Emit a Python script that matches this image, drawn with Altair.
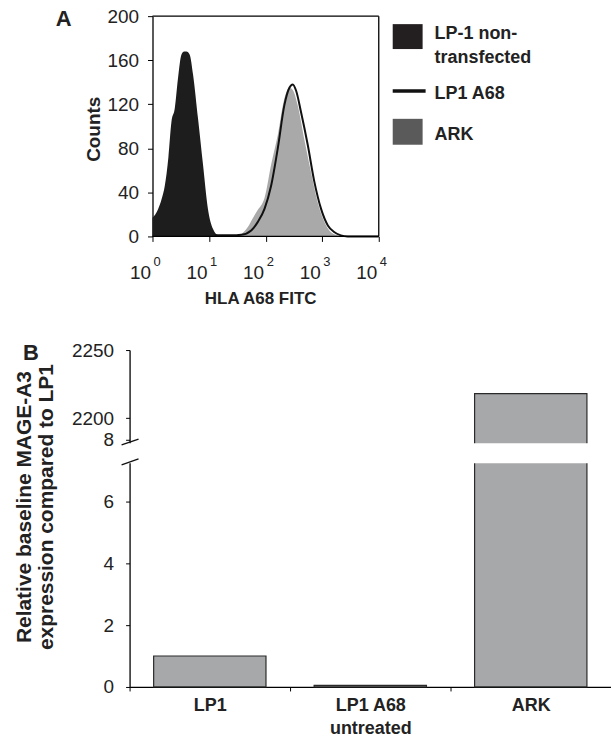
import altair as alt
import pandas as pd

FONT = "Liberation Sans"

# ---------------- Panel A data (flow cytometry histograms) ----------------
NONTRANS_X = [1.0, 1.12, 1.26, 1.45, 1.65, 1.91, 2.16, 2.47, 2.83, 3.24, 3.63, 3.98,
              4.55, 5.21, 6.38, 7.82, 9.55, 11.7, 14.5, 17.8]
NONTRANS_Y = [17, 20, 25, 34, 46, 72, 104, 116, 144, 165, 168, 168,
              165, 147, 107, 65, 25, 7, 1, 0]

ARK_X = [28, 34.7, 41, 48.5, 60, 72.4, 83, 95.5, 125, 164, 214, 263, 302, 369,
         479, 631, 832, 1096, 1413, 1862, 2240]
ARK_Y = [0, 1, 4, 8.5, 17, 24, 28, 35, 65, 92, 125, 135, 133, 119,
         89, 59, 31, 13, 4, 1, 0]

A68_X = [12.6, 17.8, 25, 37, 55.6, 72.4, 95.5, 125, 164, 214, 263, 302, 347, 422,
         556, 724, 955, 1259, 1622, 2138, 2818, 10000]
A68_Y = [1, 1, 1, 1.5, 5.5, 13, 25, 46, 80, 119, 135, 138, 132, 113,
         83, 50, 25, 10, 4, 1, 0, 0]

A_TICKS = [1, 10, 100, 1000, 10000]
A_SUPS = ["0", "1", "2", "3", "4"]
COUNT_TICKS = list(range(0, 201, 10))

# ---------------- Panel B data ----------------
CELLS = ["LP1", "LP1 A68 untreated", "ARK"]
EXPRESSION = [1.0, 0.05, 2218]
LOWER_TICKS = [0, 2, 4, 6, 8]
UPPER_TICKS = [2200, 2250]

# broken-axis mapping (lower segment 0-8, upper segment from 2200)
UP_BASE_V = 2200
UP_BASE_T = 8.687
UP_SCALE = 0.04406


def to_t(v):
    return v if v <= 8 else UP_BASE_T + (v - UP_BASE_V) * UP_SCALE


T_TOP = to_t(2250)
Y_VALUES = LOWER_TICKS + [to_t(v) for v in UPPER_TICKS]
GAP = [7.235, 7.88]
SLASHES = pd.DataFrame({"y0": [7.18, 7.826], "y1": [7.374, 8.01]})

# ---------------- Panel A ----------------
W_A, H_A, XOFF = 250, 221, 23
xs = alt.Scale(type="log", domain=[1, 10000], range=[XOFF, W_A])
ys = alt.Scale(domain=[0, 200], nice=False)

x_axis = alt.Axis(values=A_TICKS, labelExpr="'10'", labelAlign="right",
                  labelBaseline="alphabetic", labelPadding=37, labelOffset=-2,
                  labelFontSize=19, labelFlush=False, labelOverlap=False,
                  tickSize=5, domain=False, grid=False,
                  title="HLA A68 FITC", titleFontSize=17, titleFontWeight="bold",
                  titleX=131, titleY=54, titleBaseline="top", titleAlign="center")
y_axis = alt.Axis(values=COUNT_TICKS,
                  labelExpr="datum.value % 40 == 0 ? datum.label : ''",
                  offset=-XOFF, tickSize=5, labelPadding=9, labelFontSize=19,
                  labelOverlap=False, grid=False, domainWidth=1.3,
                  title="Counts", titleFontSize=19, titleFontWeight="bold",
                  titleAngle=-90, titleX=-53, titleY=113, titleAlign="center",
                  titleBaseline="alphabetic")

df_non = pd.DataFrame({"x": NONTRANS_X, "count": NONTRANS_Y})
df_ark = pd.DataFrame({"x": ARK_X, "count": ARK_Y})
df_a68 = pd.DataFrame({"x": A68_X, "count": A68_Y})

ark_area = alt.Chart(df_ark).mark_area(color="#a9a9a9", interpolate="monotone").encode(
    x=alt.X("x:Q", scale=xs, axis=x_axis),
    y=alt.Y("count:Q", scale=ys, axis=y_axis),
)
non_area = alt.Chart(df_non).mark_area(color="#1d1d1d", interpolate="monotone").encode(
    x="x:Q", y="count:Q")
a68_line = alt.Chart(df_a68).mark_line(color="#111111", strokeWidth=2,
                                       interpolate="monotone").encode(
    x="x:Q", y="count:Q")

one = pd.DataFrame({"a": [0]})
frame_top = alt.Chart(one).mark_rule(color="#000", strokeWidth=1.3).encode(
    x=alt.datum(1), x2=alt.datum(10000), y=alt.value(0))
frame_bottom = alt.Chart(one).mark_rule(color="#000", strokeWidth=1.3).encode(
    x=alt.datum(1), x2=alt.datum(10000), y=alt.value(H_A))
frame_right = alt.Chart(one).mark_rule(color="#000", strokeWidth=1.3).encode(
    x=alt.datum(10000), y=alt.value(0), y2=alt.value(H_A))

df_sup = pd.DataFrame({"x": A_TICKS, "s": A_SUPS})
sups = alt.Chart(df_sup).mark_text(align="left", baseline="alphabetic", fontSize=13,
                                   dx=1, color="#222", font=FONT).encode(
    x="x:Q", y=alt.value(251), text="s:N")

letter_a = alt.Chart(one).mark_text(text="A", fontSize=22, fontWeight="bold",
                                    align="left", baseline="alphabetic",
                                    color="#222", font=FONT).encode(
    x=alt.value(-74), y=alt.value(10))

leg_black = alt.Chart(one).mark_rect(color="#231f20").encode(
    x=alt.value(264), x2=alt.value(294), y=alt.value(8), y2=alt.value(33))
leg_line = alt.Chart(one).mark_rule(color="#111", strokeWidth=3.5).encode(
    x=alt.value(264), x2=alt.value(297), y=alt.value(75))
leg_grey = alt.Chart(one).mark_rect(color="#5a5a5a").encode(
    x=alt.value(264), x2=alt.value(294), y=alt.value(103), y2=alt.value(129))

LEGEND_LINES = ["LP-1 non-", "transfected", "LP1 A68", "ARK"]
LEGEND_Y = [23, 47, 83, 124]
leg_texts = [
    alt.Chart(one).mark_text(text=t, fontSize=18, fontWeight="bold", align="left",
                             baseline="alphabetic", color="#222", font=FONT).encode(
        x=alt.value(306), y=alt.value(yy))
    for t, yy in zip(LEGEND_LINES, LEGEND_Y)
]

panel_a = alt.layer(ark_area, non_area, a68_line, frame_top, frame_bottom, frame_right,
                    sups, letter_a, leg_black, leg_line, leg_grey, *leg_texts
                    ).properties(width=W_A, height=H_A)

# ---------------- Panel B ----------------
W_B, H_B = 483, 338
STEP = W_B / 3.0

df_b = pd.DataFrame({"cell": CELLS, "v": EXPRESSION})
y_expr = (f"datum.value > 8.3 ? format({UP_BASE_V} + (datum.value - {UP_BASE_T}) / {UP_SCALE}, 'd')"
          " : format(datum.value, 'd')")
yb = alt.Scale(domain=[0, T_TOP], nice=False, zero=True)

bx_axis = alt.Axis(title=None, labelAngle=0, labelFontSize=18, labelFontWeight="bold",
                   labelExpr="datum.label == 'LP1 A68 untreated' ? ['LP1 A68', 'untreated'] : datum.label",
                   bandPosition=0.5, tickOffset=-STEP / 2, labelOffset=STEP / 2,
                   tickSize=4, labelPadding=6, labelLineHeight=23, labelBaseline="top",
                   domainWidth=1.3, grid=False)
by_axis = alt.Axis(values=Y_VALUES, labelExpr=y_expr, labelFontSize=19, labelPadding=12,
                   tickSize=4, labelOverlap=False, grid=False, domainWidth=1.3,
                   title=["Relative baseline MAGE-A3", "expression compared to LP1"],
                   titleFontSize=21, titleFontWeight="bold", titleAngle=-90,
                   titleX=-99, titleY=157, titleAlign="center", titleBaseline="alphabetic",
                   titleLineHeight=22)

bars = alt.Chart(df_b).transform_calculate(
    t=f"datum.v <= 8 ? datum.v : {UP_BASE_T} + (datum.v - {UP_BASE_V}) * {UP_SCALE}"
).mark_bar(color="#a7a8aa", stroke="#2a2a2a", strokeWidth=1.2).encode(
    x=alt.X("cell:N", sort=CELLS,
            scale=alt.Scale(paddingInner=0.3, paddingOuter=0.15), axis=bx_axis),
    y=alt.Y("t:Q", scale=yb, axis=by_axis),
)
gap = alt.Chart(one).mark_rect(color="white").encode(
    x=alt.value(-3), x2=alt.value(W_B), y=alt.datum(GAP[0]), y2=alt.datum(GAP[1]))
slashes = alt.Chart(SLASHES).mark_rule(color="#111", strokeWidth=1.3).encode(
    x=alt.value(-8), x2=alt.value(9), y="y0:Q", y2="y1:Q")
letter_b = alt.Chart(one).mark_text(text="B", fontSize=22, fontWeight="bold",
                                    align="left", baseline="alphabetic",
                                    color="#222", font=FONT).encode(
    x=alt.value(-107), y=alt.value(10))

panel_b = alt.layer(bars, gap, slashes, letter_b).properties(width=W_B, height=H_B)

chart = alt.vconcat(panel_a, panel_b, spacing=35).properties(
    padding={"left": 13, "top": 6, "right": 0, "bottom": 0}
).configure_view(stroke=None).configure_axis(
    domainColor="#000", tickColor="#000", labelColor="#222", titleColor="#222",
    labelFont=FONT, titleFont=FONT
).configure_text(font=FONT)

chart.save("out.html", embed_options={"renderer": "svg", "actions": False})
